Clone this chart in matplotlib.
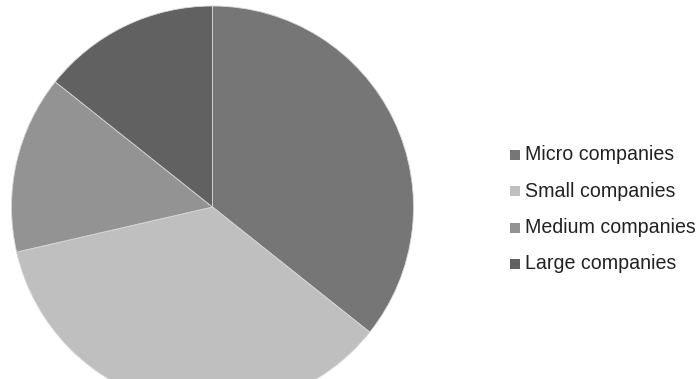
import matplotlib
matplotlib.use("Agg")
from matplotlib import pyplot as plt
from matplotlib.patches import Rectangle

# dados (percentuais aproximados)
labels = ["Micro companies", "Small companies", "Medium companies", "Large companies"]
values = [35.7, 35.7, 14.3, 14.3]
colors = ["#767676", "#bfbfbf", "#939393", "#616161"]

W, H = 696, 379
fig = plt.figure(figsize=(W / 100, H / 100), dpi=100)
plt.rcParams['font.family'] = ['Liberation Sans', 'DejaVu Sans']

# eixo da pizza: centro (212.5, 207) px, raio ~201 px
cx, cy, r = 212.5, 207, 201
ax = fig.add_axes([(cx - r) / W, (H - cy - r) / H, 2 * r / W, 2 * r / H])
ax.pie(values, colors=colors, startangle=90, counterclock=False,
       wedgeprops=dict(edgecolor="#d8d8d8", linewidth=0.6))
ax.set_xlim(-1, 1)
ax.set_ylim(-1, 1)
ax.set_aspect('equal')
ax.axis('off')

# legenda manual
y0 = 155
step = 36.3
for i, (lab, col) in enumerate(zip(labels, colors)):
    y = y0 + i * step
    fig.add_artist(Rectangle((510 / W, (H - y - 5) / H), 10 / W, 10 / H,
                             transform=fig.transFigure, facecolor=col, edgecolor='none'))
    fig.text(525 / W, (H - y) / H, lab, fontsize=14.1, color="#222222",
             va='center', ha='left')

fig.savefig("out.png", dpi=100)
